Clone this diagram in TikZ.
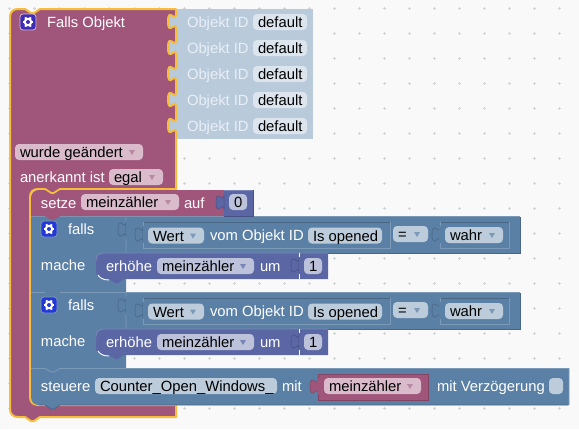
\documentclass[tikz,border=0pt]{standalone}
\usepackage{fontspec}
\setmainfont{Liberation Sans}
\definecolor{bgc}{HTML}{F9F9F9}
\definecolor{gridc}{HTML}{D4D4D4}
\definecolor{pur}{HTML}{A0557B}
\definecolor{purl}{HTML}{D9BBCB}
\definecolor{purm}{HTML}{B98AA3}
\definecolor{purd}{HTML}{804462}
\definecolor{blu}{HTML}{5B80A5}
\definecolor{blul}{HTML}{BDCCDB}
\definecolor{blum}{HTML}{7C99B7}
\definecolor{blud}{HTML}{496684}
\definecolor{ind}{HTML}{5B67A5}
\definecolor{indl}{HTML}{BDC2DB}
\definecolor{indm}{HTML}{7C85B7}
\definecolor{indd}{HTML}{495284}
\definecolor{dis}{HTML}{B9CADB}
\definecolor{disl}{HTML}{DCE5ED}
\definecolor{dist}{HTML}{E9EFF5}
\definecolor{yel}{HTML}{F6BE38}
\definecolor{icoa}{HTML}{3F2DB5}
\definecolor{icob}{HTML}{2438D8}
\tikzset{
  lab/.style={anchor=base west,inner sep=0pt,outer sep=0pt,font=\fontsize{14.8}{15}\selectfont,text=white},
  blk/.style={anchor=base west,inner sep=0pt,outer sep=0pt,font=\fontsize{14.8}{15}\selectfont,text=black},
  edge/.style={line width=0.8pt}
}
\newcounter{nn}
% label: x, centre y, text
\newcommand{\lab}[4][lab]{\stepcounter{nn}\node[#1] (t\thenn) at (#2,#3+5.6) {#4};}
% field: x1,x2,cy,fill,text
\newcommand{\fld}[5]{\fill[#4,rounded corners=4pt] (#1,#3-8) rectangle (#2,#3+8);\lab[blk]{#1+5}{#3}{#5}}
% dropdown arrow
\newcommand{\arr}[3]{\fill[#3] (#1-11-3,#2-2) -- (#1-11+3,#2-2) -- (#1-11,#2+3) -- cycle;}
% puzzle tab, x edge, y top, style
\newcommand{\puz}[3]{\path[#3] (#1,#2) .. controls (#1,#2+10) and (#1-8,#2-8) .. (#1-8,#2+7.5) .. controls (#1-8,#2+23) and (#1,#2+5) .. (#1,#2+15) -- cycle;}
% icon
\newcommand{\icon}[4]{\stepcounter{nn}\node[draw=#4,line width=0.8pt,fill=#3,rounded corners=3pt,minimum size=16pt,inner sep=0pt] (t\thenn) at (#1,#2) {};
 \foreach \a in {0,60,...,300}{\draw[white,line width=2pt] (#1,#2) -- ++(\a:5.4);}
 \fill[white] (#1,#2) circle (4.3);\fill[#3] (#1,#2) circle (2);}
% statement block falls
\newcommand{\fallsblock}[1]{
 \begin{scope}[yshift=-#1 pt]
 \fill[blu] (31,216) -- (126,216) -- (126,217) -- (520,217) -- (520,253) -- (126,253) -- (126,292) -- (60,292) -- (54,296) -- (51,296) -- (45,292) -- (31,292) -- cycle;
 \draw[blum,edge] (31,216.5) -- (45,216.5) (60,216.5) -- (520,216.5);
 \draw[blud,edge] (520,217) -- (520,253) -- (126,253);
 \draw[blum,edge] (126,217) -- (126,253) (45,292.5) -- (51,296) -- (54,296) -- (60,292.5) -- (126,292.5);
 \puz{126}{222}{fill=blu,draw=blud,line width=0.6pt}
 \fill[blu] (126,220) rectangle (128,240);
 % inner Wert block
 \fill[blu,draw=blud,line width=0.8pt] (143,222) rectangle (390,248);
 \draw[blum,edge] (143,248) -- (143,222.3);\draw[blum,edge] (143,248) -- (390,248) -- (390,222);
 \puz{143}{227}{fill=blu,draw=blud,line width=0.6pt}
 \fill[blu] (143,226) rectangle (145,243);
 \fld{148}{204}{235.5}{blul}{Wert}\arr{204}{235.5}{blum}
 \lab{210}{235}{vom Objekt ID}
 \fld{308}{382}{235.5}{blul}{Is opened}
 \fld{393}{428}{234}{blul}{=}\arr{428}{234}{blum}
 % wahr input
 \puz{440}{227}{fill=blu,draw=blud,line width=0.6pt}
 \fill[blu,draw=blud,line width=0.8pt] (440,222) rectangle (509,248);
 \draw[blum,edge] (440,248) -- (440,222.3);\draw[blum,edge] (440,248) -- (509,248) -- (509,222);
 \fill[blu] (439,226) rectangle (442,243);
 \fld{445}{503}{235}{blul}{wahr}\arr{503}{235}{blum}
 \icon{49}{229}{icob}{blum}
 \end{scope}}
\begin{document}
\begin{tikzpicture}[x=1pt,y=-1pt]
\useasboundingbox (0,0) rectangle (579,429);
\fill[bgc] (0,0) rectangle (579,429);
\foreach \gx in {9,34,...,559}\foreach \gy in {8,33,...,408}{
  \draw[gridc,line width=0.7pt] (\gx-1.5,\gy) -- (\gx+1.5,\gy) (\gx,\gy-1.5) -- (\gx,\gy+1.5);}
% disabled object id blocks
\fill[dis] (165,9) rectangle (313,139);
% outer block
\path[fill=pur,draw=yel,line width=2pt,line join=round]
 (10,17) .. controls (10,12) and (13,9) .. (18,9) -- (25,9) -- (31,13) -- (34,13) -- (40,9) -- (176,9)
 -- (176,14) .. controls (176,24) and (168,6) .. (168,21.5) .. controls (168,37) and (176,19) .. (176,29)
 -- (176,40) .. controls (176,50) and (168,32) .. (168,47.5) .. controls (168,63) and (176,45) .. (176,55)
 -- (176,66) .. controls (176,76) and (168,58) .. (168,73.5) .. controls (168,89) and (176,71) .. (176,81)
 -- (176,92) .. controls (176,102) and (168,84) .. (168,99.5) .. controls (168,115) and (176,97) .. (176,107)
 -- (176,118) .. controls (176,128) and (168,110) .. (168,125.5) .. controls (168,141) and (176,123) .. (176,133)
 -- (176,189) -- (60,189) -- (54,193) -- (51,193) -- (45,189) -- (38,189)
 .. controls (33,189) and (30,192) .. (30,197) -- (30,397) .. controls (30,402) and (33,405) .. (38,405)
 -- (176,405) -- (176,417) -- (40,417) -- (34,421) -- (31,421) -- (25,417) -- (18,417)
 .. controls (13,417) and (10,414) .. (10,409) -- cycle;
\icon{28}{22}{icoa}{purl}
\lab{47}{21.5}{Falls Objekt}
\foreach \ry in {22,48,74,100,126}{
  \lab[lab,text=dist]{187}{\ry-0.5}{Objekt ID}
  \fill[disl,rounded corners=4pt] (253,\ry-8) rectangle (307,\ry+8);
  \lab[blk]{258}{\ry-0.5}{default}
}
\fld{15}{143}{152}{purl}{wurde geändert}\arr{143}{152}{purm}
\lab{20}{177}{anerkannt ist}
\fld{109}{163}{177}{purl}{egal}\arr{163}{177}{purm}
% falls blocks
\fallsblock{0}
\fallsblock{76}
% steuere
\fill[blu] (31,368) -- (45,368) -- (51,372) -- (54,372) -- (60,368) -- (569,368) -- (569,405) -- (60,405) -- (54,409) -- (51,409) -- (45,405) -- (39,405) .. controls (34,405) and (31,402) .. (31,397) -- cycle;
\draw[blum,edge] (31,368.5) -- (45,368.5) -- (51,372) -- (54,372) -- (60,368.5) -- (569,368.5) -- (569,405);
\draw[blud,edge] (39,405) -- (45,405) -- (51,409) -- (54,409) -- (60,405) -- (568,405);
\lab{41}{386}{steuere}
\fld{95}{277}{386}{blul}{Counter\_Open\_Windows\_}
\lab{282}{386}{mit}
\puz{318}{379}{fill=pur,draw=purd,line width=0.5pt}
\fill[pur,draw=purd,line width=0.8pt] (318,374) rectangle (428,400);
\fill[pur] (317,378) rectangle (320,395);
\fld{324}{421}{386}{purl}{meinzähler}\arr{421}{386}{purm}
\lab{437}{386}{mit Verzögerung}
\fill[blul,rounded corners=4pt] (549,378) rectangle (563,394);
% erhoehe blocks
\foreach \dy in {0,76}{
 \begin{scope}[yshift=-\dy pt]
 \fill[ind] (104,253) -- (328,253) -- (328,279) -- (124,279) -- (118,283) -- (115,283) -- (109,279) -- (104,279) .. controls (99,279) and (96,276) .. (96,271) -- (96,261) .. controls (96,256) and (99,253) .. (104,253) -- cycle;
 \draw[white,line width=0.9pt] (98,275) .. controls (100,278) and (103,280) .. (109,280);
 \draw[indm,edge] (96,261) .. controls (96,256) and (99,253) .. (104,253) -- (328,253);
 \draw[white,line width=0.7pt] (299,253) -- (299,279);
 \puz{299}{258}{fill=ind,draw=indd,line width=0.6pt}
 \fill[ind] (299.4,257) rectangle (301,274);
 \lab{106}{265.5}{erhöhe}
 \fld{157}{254}{266}{indl}{meinzähler}\arr{254}{266}{indm}
 \lab{260}{266}{um}
 \fld{304}{322}{266}{indl}{1}
 \lab{41}{264.5}{mache}
 \lab{68}{228.5}{falls}
 \end{scope}}
% setze
\fill[pur] (39,190) -- (45,190) -- (51,194) -- (54,194) -- (60,190) -- (224,190) -- (224,216) -- (60,216) -- (54,220) -- (51,220) -- (45,216) -- (31,216) -- (31,198) .. controls (31,193) and (34,190) .. (39,190) -- cycle;
\lab{41}{203}{setze}
\fld{81}{179}{202}{purl}{meinzähler}\arr{179}{202}{purm}
\lab{184}{203}{auf}
\fill[ind] (224,190) rectangle (253,216);
\draw[indm,edge] (224,190.5) -- (253,190.5);
\draw[indd,edge] (253,190) -- (253,216) -- (224,216);
\puz{224}{195}{fill=ind,draw=indd,line width=0.5pt}
\fld{229}{247}{202}{indl}{0}
\end{tikzpicture}
\end{document}
